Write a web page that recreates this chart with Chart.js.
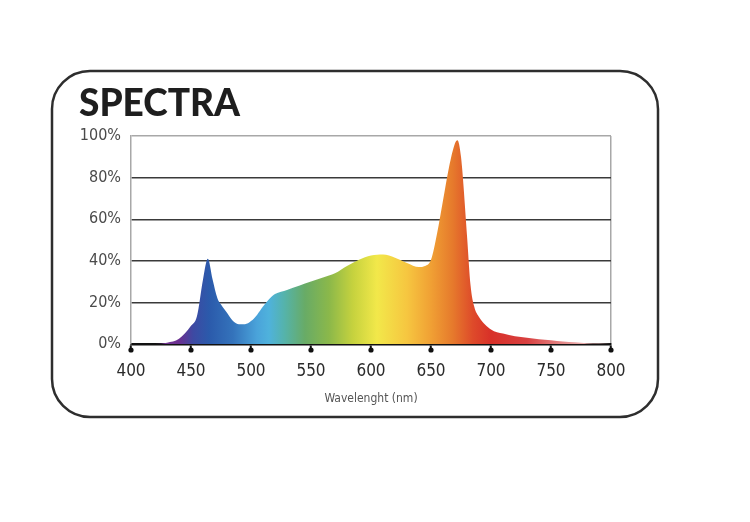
<!DOCTYPE html>
<html>
<head>
<meta charset="utf-8">
<script src="https://cdn.jsdelivr.net/npm/chart.js@4"></script>
<style>
  html, body { margin: 0; padding: 0; background: #fff; }
  #wrap { width: 750px; height: 522px; position: relative; }
</style>
</head>
<body>
<div id="wrap"><canvas id="spectra" width="750" height="522"></canvas></div>
<script>
// Wavelength (nm) and relative intensity (%)
const wavelengths = [400, 420, 430, 440, 450, 455, 460, 464, 468, 472, 475, 480, 485, 490, 495, 500, 505, 510, 515, 520,
  530, 540, 550, 560, 570, 580, 590, 600, 610, 620, 630, 640, 645, 650, 655, 660, 665, 670, 672, 675, 680, 683, 686, 690,
  700, 710, 720, 730, 740, 750, 760, 770, 780, 790, 800];
const intensity = [0, 0, 0.6, 2.5, 8.8, 13.5, 31, 41, 31, 22, 19, 15, 11, 9.5, 9.5, 11, 14, 18, 21.5, 24,
  26, 28, 30, 32, 34, 37.5, 40.5, 42.5, 43, 41.5, 39, 37, 37.5, 40.5, 53, 69, 85, 96.5, 98, 90, 52, 28, 18, 13,
  7, 5, 3.7, 3, 2.3, 1.8, 1.2, 0.8, 0.4, 0.2, 0];
const xTicks = [400, 450, 500, 550, 600, 650, 700, 750, 800];
const yTicks = [0, 20, 40, 60, 80, 100];

// spectral colour stops (nm -> colour) for the fill
const spectrumStops = [
  [420, '#7a3a95'], [440, '#6a2f90'], [452, '#3d4aa3'], [465, '#2b5aab'], [485, '#3473bb'],
  [505, '#4aa3da'], [515, '#4fb2dc'], [528, '#55b3aa'], [545, '#68ab66'], [565, '#8bb84a'],
  [585, '#c6d23e'], [605, '#f2e84a'], [630, '#f6c640'], [650, '#f0a034'], [668, '#e67a2c'],
  [685, '#de4a2a'], [700, '#d83028'], [730, '#d84040'], [770, '#e8a0a0'], [800, '#f0d0d0']
];

const narrow = '"Liberation Sans Narrow", "DejaVu Sans Condensed", sans-serif';

function spectrumFill(ctx) {
  const chart = ctx.chart;
  const area = chart.chartArea;
  if (!area) return '#f0c040';
  const x = chart.scales.x;
  const g = chart.ctx.createLinearGradient(x.getPixelForValue(400), 0, x.getPixelForValue(800), 0);
  spectrumStops.forEach(([nm, c]) => g.addColorStop((nm - 400) / 400, c));
  return g;
}

// rounded frame, title and the little pins under the x ticks
const framePlugin = {
  id: 'frame',
  beforeDraw(chart) {
    const c = chart.ctx;
    c.save();
    c.strokeStyle = '#2e2e2e';
    c.lineWidth = 2.5;
    c.beginPath();
    c.roundRect(52, 71, 606, 346, 38);
    c.stroke();
    c.fillStyle = '#1e1e1e';
    c.font = '900 37px Lato, "DejaVu Sans", sans-serif';
    c.textBaseline = 'alphabetic';
    c.fillText('SPECTRA', 79, 116);
    c.restore();
  },
  afterDraw(chart) {
    const c = chart.ctx;
    const x = chart.scales.x;
    const bottom = chart.chartArea.bottom;
    c.save();
    c.fillStyle = '#111';
    xTicks.forEach(v => {
      c.beginPath();
      c.arc(x.getPixelForValue(v), bottom + 6, 2.6, 0, Math.PI * 2);
      c.fill();
    });
    c.restore();
  }
};

new Chart(document.getElementById('spectra'), {
  type: 'line',
  data: {
    datasets: [{
      data: wavelengths.map((w, i) => ({ x: w, y: intensity[i] })),
      fill: 'origin',
      backgroundColor: spectrumFill,
      borderWidth: 0,
      pointRadius: 0,
      cubicInterpolationMode: 'monotone'
    }]
  },
  options: {
    responsive: false,
    animation: false,
    layout: { padding: { left: 0, right: 139, top: 136, bottom: 102 } },
    plugins: { legend: { display: false }, tooltip: { enabled: false } },
    scales: {
      x: {
        type: 'linear',
        min: 400,
        max: 800,
        afterBuildTicks: s => { s.ticks = xTicks.map(v => ({ value: v })); },
        afterFit: s => { s.height = 76; },
        grid: {
          drawOnChartArea: true,
          color: c => (c.tick && c.tick.value === 800 ? '#a8a8a8' : 'rgba(0,0,0,0)'),
          lineWidth: 1.5,
          tickColor: '#111',
          tickWidth: 2,
          tickLength: 7
        },
        border: { color: '#111', width: 2.5 },
        ticks: {
          color: '#2a2a2a',
          padding: 10,
          font: { family: narrow, size: 17 }
        },
        title: {
          display: true,
          text: 'Wavelenght (nm)',
          color: '#555',
          padding: { top: 0, bottom: 14 },
          font: { family: narrow, size: 12 }
        }
      },
      y: {
        min: 0,
        max: 100,
        afterBuildTicks: s => { s.ticks = yTicks.map(v => ({ value: v })); },
        afterFit: s => { s.width = 131; },
        grid: {
          color: c => (c.tick && c.tick.value === 100 ? '#a8a8a8' : '#3a3a3a'),
          lineWidth: 1.4,
          drawTicks: false
        },
        border: { color: '#a8a8a8', width: 1.5 },
        ticks: {
          color: '#4a4a4a',
          padding: 10,
          callback: v => v + '%',
          font: { family: narrow, size: 16 }
        }
      }
    }
  },
  plugins: [framePlugin]
});
</script>
</body>
</html>
